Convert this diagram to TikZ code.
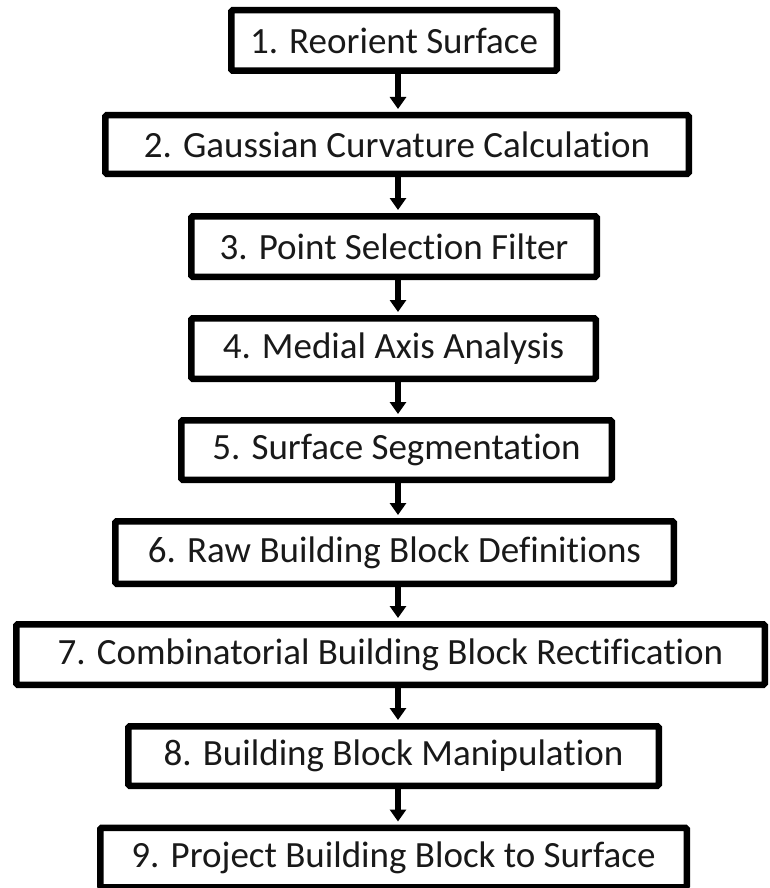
\documentclass[tikz,border=0pt]{standalone}
\usepackage{fontspec}
\setmainfont{Carlito}[Ligatures=NoCommon]
\usetikzlibrary{arrows.meta}
\begin{document}
\begin{tikzpicture}[x=1pt,y=-1pt,
  stepbox/.style={draw=black,fill=white,line width=6.5pt,rounded corners=1.5pt,
    inner sep=0pt,font=\fontsize{37}{44}\selectfont,text=black!90},
  flowarrow/.style={line width=5.5pt,-{Triangle[width=16pt,length=12pt]},shorten >=3pt}]
\useasboundingbox (0,0) rectangle (770,888);
\fill[white] (0,0) rectangle (770,888);
\coordinate (axis) at (398,0);
\node[stepbox,minimum width=325.5pt,minimum height=60.5pt] (b1) at (394,40.5) {1. Reorient Surface};
\node[stepbox,minimum width=583.5pt,minimum height=58.5pt] (b2) at (397,144.5) {2. Gaussian Curvature Calculation};
\node[stepbox,minimum width=405.5pt,minimum height=60.5pt] (b3) at (394,246.5) {3. Point Selection Filter};
\node[stepbox,minimum width=404.5pt,minimum height=60.5pt] (b4) at (393.5,348.5) {4. Medial Axis Analysis};
\node[stepbox,minimum width=430.5pt,minimum height=59.5pt] (b5) at (396.5,450) {5. Surface Segmentation};
\node[stepbox,minimum width=558.5pt,minimum height=62.5pt] (b6) at (394.5,552.5) {6. Raw Building Block Definitions};
\node[stepbox,minimum width=748.5pt,minimum height=60.5pt] (b7) at (390.5,654.5) {7. Combinatorial Building Block Rectification};
\node[stepbox,minimum width=530.5pt,minimum height=59.5pt] (b8) at (393.5,756) {8. Building Block Manipulation};
\node[stepbox,minimum width=586.5pt,minimum height=59.5pt] (b9) at (393.5,857.5) {9. Project Building Block to Surface};
\foreach \a/\b in {b1/b2,b2/b3,b3/b4,b4/b5,b5/b6,b6/b7,b7/b8,b8/b9}
  \draw[flowarrow] (\a.south -| axis) -- (\b.north -| axis);
\end{tikzpicture}
\end{document}
